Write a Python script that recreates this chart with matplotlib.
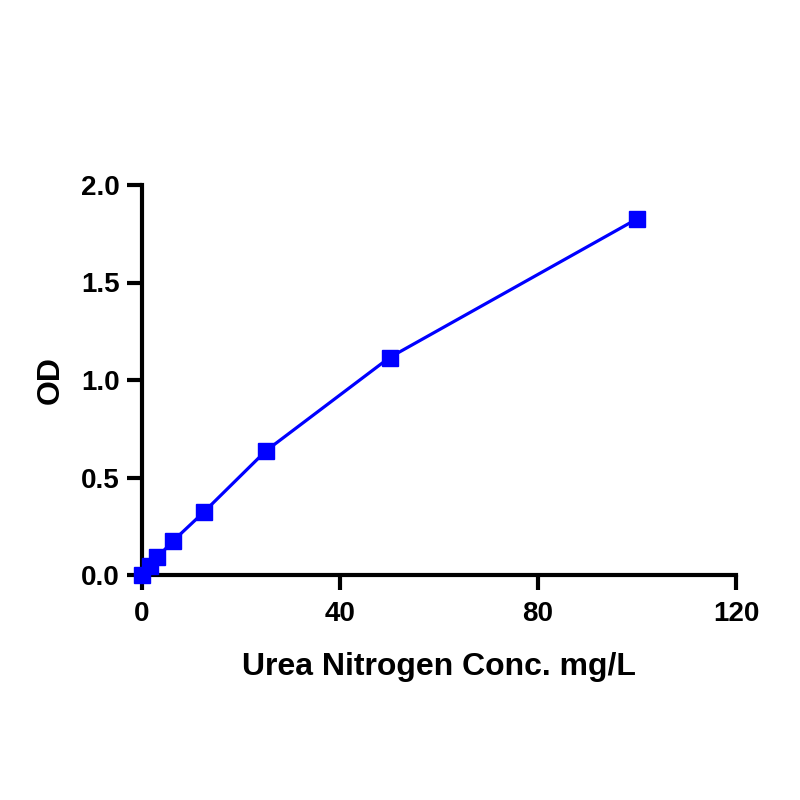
import matplotlib
matplotlib.use('Agg')
import matplotlib.pyplot as plt

conc = [0, 1.5625, 3.125, 6.25, 12.5, 25, 50, 100]
od = [0.0, 0.046, 0.092, 0.174, 0.323, 0.636, 1.115, 1.826]
xticks = [0, 40, 80, 120]
yticks = [0.0, 0.5, 1.0, 1.5, 2.0]

BLUE = '#0000ff'

plt.rcParams['font.family'] = ['Liberation Sans', 'DejaVu Sans']
plt.rcParams['font.weight'] = 'bold'

fig = plt.figure(figsize=(8, 8), dpi=100)
ax = fig.add_axes([0.1775, 0.28125, 0.7425, 0.4875])

ax.plot(conc, od, color=BLUE, lw=2.3, marker='s', ms=11.5, mec=BLUE, mfc=BLUE,
        clip_on=False, zorder=3)

ax.set_xlim(0, 120)
ax.set_ylim(0, 2.0)
ax.set_xticks(xticks)
ax.set_xticklabels([str(v) for v in xticks])
ax.set_yticks(yticks)
ax.set_yticklabels([f'{v:.1f}' for v in yticks])

for s in ['top', 'right']:
    ax.spines[s].set_visible(False)
for s in ['left', 'bottom']:
    ax.spines[s].set_linewidth(3)
ax.tick_params(width=3, length=11, labelsize=20)
ax.tick_params(axis='x', pad=8)
ax.tick_params(axis='y', pad=5)
for lab in ax.get_xticklabels() + ax.get_yticklabels():
    lab.set_fontweight('bold')

ax.set_xlabel('Urea Nitrogen Conc. mg/L', fontsize=23, fontweight='bold', labelpad=18)
ax.set_ylabel('OD', fontsize=23, fontweight='bold', labelpad=11)

fig.savefig('out.png', dpi=100, facecolor='white')
